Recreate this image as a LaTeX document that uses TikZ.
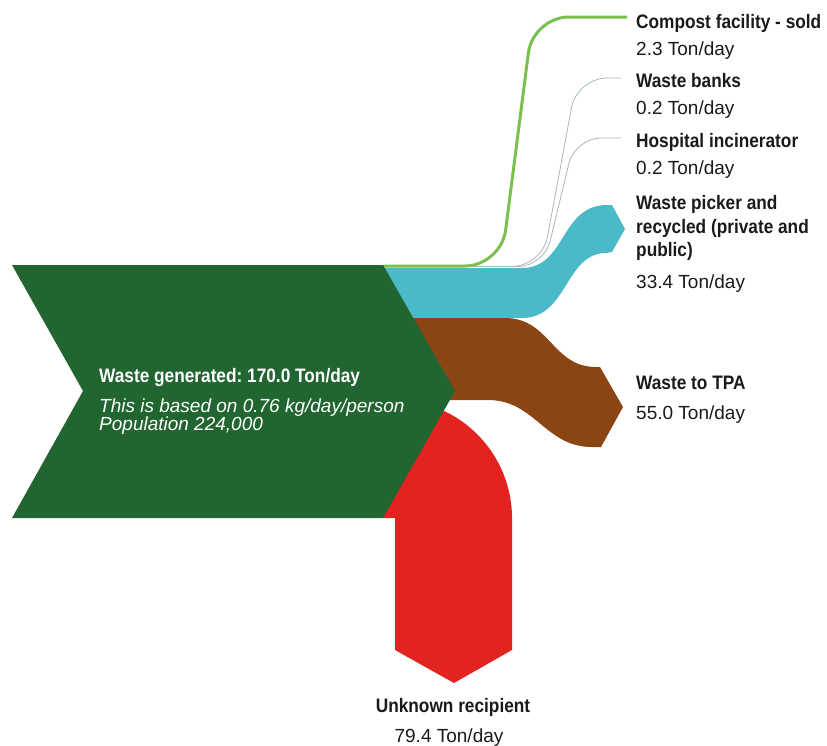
\documentclass[tikz,border=0pt]{standalone}
\usepackage{fontspec}
\setmainfont{Liberation Sans}
\newfontfamily\narrowsans[FakeStretch=0.885,BoldFont={Liberation Sans Bold}]{Liberation Sans}
\frenchspacing
\definecolor{gengreen}{HTML}{216530}
\definecolor{recyc}{HTML}{4ABAC8}
\definecolor{tpa}{HTML}{8B4513}
\definecolor{unknown}{HTML}{E2231F}
\definecolor{compost}{HTML}{7BBF4E}
\definecolor{thinflow}{HTML}{A8B6BE}
\definecolor{labelink}{HTML}{1A1A1A}
\begin{document}
\begin{tikzpicture}[x=1pt,y=-1pt,
  head/.style={anchor=base west, inner sep=0pt, text=labelink,
    font=\narrowsans\fontsize{19.5}{22}\selectfont\bfseries},
  amount/.style={anchor=base west, inner sep=0pt, text=labelink,
    font=\fontsize{19}{22}\selectfont},
  srchead/.style={anchor=base west, inner sep=0pt, text=white,
    font=\narrowsans\fontsize{19.5}{22}\selectfont\bfseries},
  srcnote/.style={anchor=base west, inner sep=0pt, text=white,
    font=\fontsize{19}{22}\selectfont\itshape},
  thin flow/.style={draw=thinflow, line width=0.8pt}]
\useasboundingbox (0,0) rectangle (827,745);

% anchor points of the flows
\coordinate (src) at (383,266);
\coordinate (cmpEnd) at (627,17);
\coordinate (bankEnd) at (621,78);
\coordinate (hospEnd) at (621,138);

% thin flows: waste banks and hospital incinerator
\draw[thin flow, rounded corners=30pt] (470,266.5) -- (542,266.5) -- (577,78) -- (bankEnd);
\draw[thin flow, rounded corners=26pt] (470,266.5) -- (544,266.5) -- (575,138) -- (hospEnd);

% waste picker / recycled
\fill[recyc] (384,268) -- (522,268) .. controls (566,268) and (560,206) .. (606,205)
  -- (612,205) -- (625,229) -- (612,252) -- (606,253)
  .. controls (565,253) and (568,318) .. (522,318) -- (384,318) -- cycle;

% waste to TPA
\fill[tpa] (384,318) -- (505,318) .. controls (550,318) and (552,367) .. (596,367)
  -- (600,367) -- (623,407) -- (601,447) -- (592,447)
  .. controls (545,447) and (535,400) .. (488,400) -- (384,400) -- cycle;

% unknown recipient
\fill[unknown] (383,400) -- (395,400) .. controls (459.6,400) and (512,453.4) .. (512,518)
  -- (512,650) -- (454,683) -- (395,650) -- (395,518) -- (383,518) -- cycle;

% compost facility
\draw[compost, line width=3pt, rounded corners=36pt] (src) -- (501,266) -- (533,17) -- (cmpEnd);

% waste generated
\fill[gengreen] (12,265) -- (383,265) -- (455,391) -- (383,518) -- (12,518) -- (83,391) -- cycle;

\node[srchead] (genT) at (99,382) {Waste generated: 170.0 Ton/day};
\node[srcnote] (genA) at (99,412) {This is based on 0.76 kg/day/person};
\node[srcnote] (genB) at (99,430) {Population 224,000};

% destination labels
\node[head]   (cmpT)  at (636,28)  {Compost facility - sold};
\node[amount] (cmpV)  at (636,55)  {2.3 Ton/day};
\node[head]   (bankT) at (636,87)  {Waste banks};
\node[amount] (bankV) at (636,114) {0.2 Ton/day};
\node[head]   (hospT) at (636,147) {Hospital incinerator};
\node[amount] (hospV) at (636,174) {0.2 Ton/day};
\node[head]   (recA)  at (636,209) {Waste picker and};
\node[head]   (recB)  at (636,233) {recycled (private and};
\node[head]   (recC)  at (636,256) {public)};
\node[amount] (recV)  at (636,288) {33.4 Ton/day};
\node[head]   (tpaT)  at (636,389) {Waste to TPA};
\node[amount] (tpaV)  at (636,419) {55.0 Ton/day};
\node[head, anchor=base] (unkT) at (453,712) {Unknown recipient};
\node[amount, anchor=base] (unkV) at (449,742) {79.4 Ton/day};
\end{tikzpicture}
\end{document}
